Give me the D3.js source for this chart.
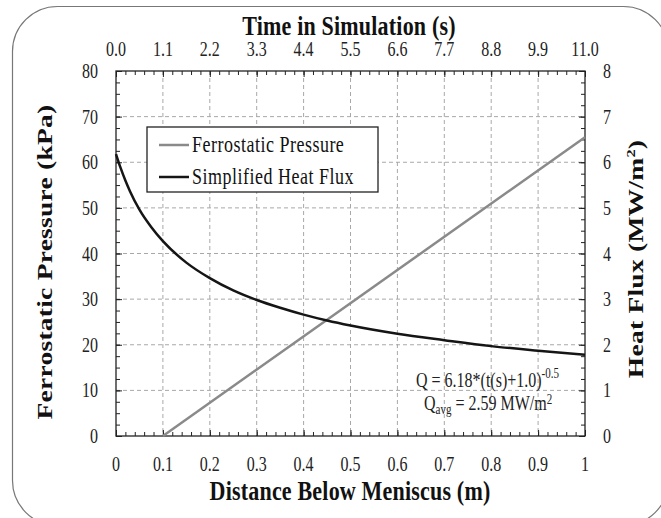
<!DOCTYPE html>
<html>
<head>
<meta charset="utf-8">
<script src="https://cdn.jsdelivr.net/npm/d3@7"></script>
<style>
  body { margin: 0; background: #fff; }
</style>
</head>
<body>
<svg id="chart" width="661" height="518" font-family="'Liberation Serif', 'Times New Roman', Times, serif"></svg>
<script>
// distance below meniscus (m) and series
const fluxDistance = [0, 0.01, 0.02, 0.03, 0.05, 0.075, 0.1, 0.15, 0.2, 0.25, 0.3, 0.35, 0.4, 0.45, 0.5, 0.6, 0.7, 0.8, 0.9, 1.0];
const heatFlux = [6.18, 5.87, 5.60, 5.36, 4.96, 4.58, 4.27, 3.80, 3.46, 3.19, 2.98, 2.81, 2.66, 2.53, 2.42, 2.24, 2.10, 1.97, 1.87, 1.78];
const pressureDistance = [0.1, 1.0];
const pressure = [0, 65.5];

const bottomTicks = [0, 0.1, 0.2, 0.3, 0.4, 0.5, 0.6, 0.7, 0.8, 0.9, 1];
const topTicks = ['0.0', '1.1', '2.2', '3.3', '4.4', '5.5', '6.6', '7.7', '8.8', '9.9', '11.0'];
const leftTicks = [0, 10, 20, 30, 40, 50, 60, 70, 80];
const rightTicks = [0, 1, 2, 3, 4, 5, 6, 7, 8];

const svg = d3.select('#chart');
const plotLeft = 116, plotRight = 585, plotTop = 71, plotBottom = 436;
const stretch = 1.25; // the original picture's text is drawn tall and narrow

// rounded outer frame (runs off the right and bottom edges)
svg.append('rect')
    .attr('x', 12.5).attr('y', 6.5)
    .attr('width', 656).attr('height', 519)
    .attr('rx', 45).attr('ry', 45)
    .attr('fill', 'none')
    .attr('stroke', '#777')
    .attr('stroke-width', 1.2);

const x = d3.scaleLinear().domain([0, 1]).range([plotLeft, plotRight]);
const xTop = d3.scaleLinear().domain([0, 11]).range([plotLeft, plotRight]);
const yLeft = d3.scaleLinear().domain([0, 80]).range([plotBottom, plotTop]);
const yRight = d3.scaleLinear().domain([0, 8]).range([plotBottom, plotTop]);

// dashed grid
const grid = svg.append('g').attr('stroke', '#a8a8a8').attr('stroke-dasharray', '4,3').attr('stroke-width', 1);
bottomTicks.slice(1, -1).forEach(v => {
    grid.append('line').attr('x1', x(v)).attr('x2', x(v)).attr('y1', plotTop).attr('y2', plotBottom);
});
leftTicks.slice(1, -1).forEach(v => {
    grid.append('line').attr('x1', plotLeft).attr('x2', plotRight).attr('y1', yLeft(v)).attr('y2', yLeft(v));
});

// axes with inward ticks
function minorTicks(scale, step) {
    const [a, b] = scale.domain();
    return d3.range(a, b + step / 2, step);
}

const axisG = svg.append('g');
axisG.append('g').attr('transform', `translate(0,${plotBottom})`)
    .call(d3.axisTop(x).tickValues(minorTicks(x, 0.02)).tickSize(4).tickFormat(''));
axisG.append('g').attr('transform', `translate(0,${plotBottom})`)
    .call(d3.axisTop(x).tickValues(bottomTicks).tickSize(6).tickFormat(''));
axisG.append('g').attr('transform', `translate(0,${plotTop})`)
    .call(d3.axisBottom(xTop).tickValues(minorTicks(xTop, 0.22)).tickSize(4).tickFormat(''));
axisG.append('g').attr('transform', `translate(0,${plotTop})`)
    .call(d3.axisBottom(xTop).tickValues(d3.range(0, 11.01, 1.1)).tickSize(6).tickFormat(''));
axisG.append('g').attr('transform', `translate(${plotLeft},0)`)
    .call(d3.axisRight(yLeft).tickValues(minorTicks(yLeft, 2.5)).tickSize(4).tickFormat(''));
axisG.append('g').attr('transform', `translate(${plotLeft},0)`)
    .call(d3.axisRight(yLeft).tickValues(leftTicks).tickSize(6).tickFormat(''));
axisG.append('g').attr('transform', `translate(${plotRight},0)`)
    .call(d3.axisLeft(yRight).tickValues(minorTicks(yRight, 0.25)).tickSize(4).tickFormat(''));
axisG.append('g').attr('transform', `translate(${plotRight},0)`)
    .call(d3.axisLeft(yRight).tickValues(rightTicks).tickSize(6).tickFormat(''));
axisG.selectAll('.domain').remove();
axisG.selectAll('line').attr('stroke', '#222');

svg.append('rect')
    .attr('x', plotLeft).attr('y', plotTop)
    .attr('width', plotRight - plotLeft).attr('height', plotBottom - plotTop)
    .attr('fill', 'none').attr('stroke', '#222').attr('stroke-width', 1.3);

// text helpers: place at (tx, ty) and stretch vertically
const flat = (tx, ty) => `translate(${tx},${ty}) scale(1,${stretch})`;
const upright = (tx, ty) => `translate(${tx},${ty}) rotate(-90) scale(${stretch},1)`;

// tick labels
const labelStyle = sel => sel.attr('font-size', 16).attr('fill', '#222');
svg.append('g').selectAll('text').data(bottomTicks).join('text')
    .attr('transform', d => flat(x(d), 471)).attr('text-anchor', 'middle')
    .text(d => d).call(labelStyle);
svg.append('g').selectAll('text').data(topTicks).join('text')
    .attr('transform', (d, i) => flat(xTop(i * 1.1), 56)).attr('text-anchor', 'middle')
    .text(d => d).call(labelStyle);
svg.append('g').selectAll('text').data(leftTicks).join('text')
    .attr('transform', d => flat(98, yLeft(d) + 7)).attr('text-anchor', 'end')
    .text(d => d).call(labelStyle);
svg.append('g').selectAll('text').data(rightTicks).join('text')
    .attr('transform', d => flat(603, yRight(d) + 7)).attr('text-anchor', 'start')
    .text(d => d).call(labelStyle);

// axis titles
const titleStyle = sel => sel.attr('font-size', 22).attr('font-weight', 'bold')
    .attr('letter-spacing', 0.2).attr('fill', '#111').attr('text-anchor', 'middle');
svg.append('text').attr('transform', flat(349, 35)).text('Time in Simulation (s)').call(titleStyle);
svg.append('text').attr('transform', flat(350, 500)).text('Distance Below Meniscus (m)').call(titleStyle);
svg.append('text').attr('transform', upright(52, 262)).text('Ferrostatic Pressure (kPa)').call(titleStyle);
const rt = svg.append('text').attr('transform', upright(643, 259)).call(titleStyle);
rt.append('tspan').text('Heat Flux (MW/m');
rt.append('tspan').attr('font-size', 13).attr('dy', -8).text('2');
rt.append('tspan').attr('dy', 8).text(')');

// series
const pressureLine = d3.line().x(d => x(d[0])).y(d => yLeft(d[1]));
svg.append('path')
    .datum(d3.zip(pressureDistance, pressure))
    .attr('d', pressureLine)
    .attr('fill', 'none').attr('stroke', '#8a8a8a').attr('stroke-width', 2.5);

const fluxLine = d3.line().x(d => x(d[0])).y(d => yRight(d[1])).curve(d3.curveMonotoneX);
svg.append('path')
    .datum(d3.zip(fluxDistance, heatFlux))
    .attr('d', fluxLine)
    .attr('fill', 'none').attr('stroke', '#151515').attr('stroke-width', 2.5);

// legend
const legend = svg.append('g');
legend.append('rect')
    .attr('x', 147).attr('y', 127).attr('width', 231).attr('height', 65)
    .attr('fill', '#fff').attr('stroke', '#222').attr('stroke-width', 1.3);
const legendItems = [
    { label: 'Ferrostatic Pressure', color: '#8a8a8a' },
    { label: 'Simplified Heat Flux', color: '#151515' }
];
legendItems.forEach((item, i) => {
    const yy = 145 + i * 32;
    legend.append('line')
        .attr('x1', 159).attr('x2', 189).attr('y1', yy).attr('y2', yy)
        .attr('stroke', item.color).attr('stroke-width', 2.5);
    legend.append('text')
        .attr('transform', flat(192, yy + 7))
        .attr('font-size', 18).attr('letter-spacing', 0.5).attr('fill', '#111')
        .text(item.label);
});

// annotation
const note = svg.append('g').attr('font-size', 16).attr('fill', '#222');
const n1 = note.append('text').attr('transform', flat(416, 387));
n1.append('tspan').text('Q = 6.18*(t(s)+1.0)');
n1.append('tspan').attr('font-size', 11).attr('dy', -7).text('-0.5');
const n2 = note.append('text').attr('transform', flat(424, 410));
n2.append('tspan').text('Q');
n2.append('tspan').attr('font-size', 11).attr('dy', 3).text('avg');
n2.append('tspan').attr('dy', -3).text(' = 2.59 MW/m');
n2.append('tspan').attr('font-size', 11).attr('dy', -5).text('2');
</script>
</body>
</html>
